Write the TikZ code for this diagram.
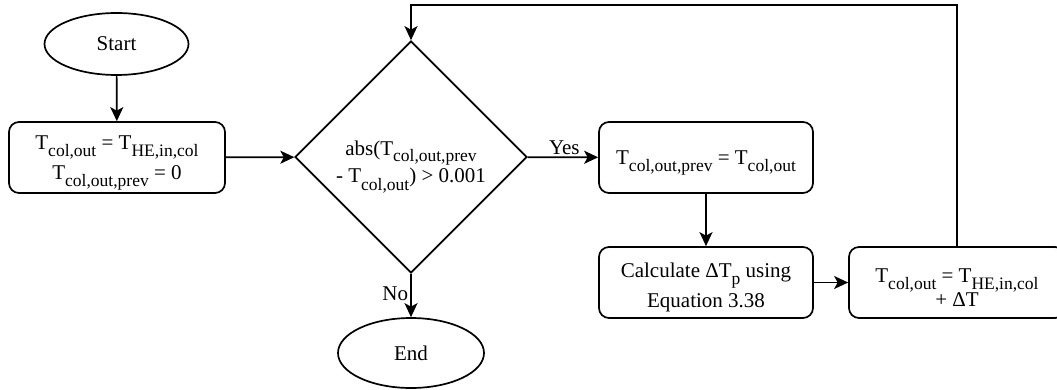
\documentclass[tikz,border=0pt]{standalone}
\usepackage{fontspec}
\setmainfont{Liberation Serif}
\newfontfamily\tms{Liberation Serif}
\usetikzlibrary{shapes.geometric,arrows.meta}
\newcommand\sbx[1]{\raisebox{-7pt}{\fontsize{17.5}{18}\selectfont #1}}
\lineskiplimit=-100pt
\begin{document}
\begin{tikzpicture}[x=1pt,y=-1pt, line width=1.7pt,
  every node/.style={font=\tms\fontsize{21}{24}\selectfont},
  box/.style={draw, rounded corners=10pt, minimum width=216pt, minimum height=71pt, align=center, inner sep=0pt},
  oval/.style={draw, ellipse, minimum width=144pt, minimum height=62pt, inner sep=0pt},
  dec/.style={draw, diamond, minimum width=232pt, minimum height=232pt, align=center, inner sep=0pt},
  arr/.style={-{Stealth[length=14pt,width=13pt,inset=3.5pt]}},
  lbl/.style={inner sep=2pt}]
\useasboundingbox (0,0) rectangle (1057,390);
\node[oval] (start) at (116.5,44) {Start};
\node[box, font=\tms\fontsize{21}{30}\selectfont, text height=50pt, text depth=5pt] (b1) at (117,157.5) {T\sbx{col,out} = T\sbx{HE,in,col}\\T\sbx{col,out,prev} = 0};
\node[dec, font=\tms\fontsize{21}{28}\selectfont, text height=56pt, text depth=4pt] (d) at (411,157) {abs(T\sbx{col,out,prev}\\- T\sbx{col,out}) > 0.001};
\node[box, minimum width=214pt, text height=20pt, text depth=5pt] (b2) at (706,157.5) {T\sbx{col,out,prev} = T\sbx{col,out}};
\node[box, minimum width=214pt, font=\tms\fontsize{21}{30}\selectfont, text height=53pt, text depth=4pt] (b3) at (706,282.5) {Calculate ΔT\sbx{p} using\\Equation 3.38};
\node[box, font=\tms\fontsize{21}{24}\selectfont, text height=51pt, text depth=4pt] (b4) at (957,282.5) {T\sbx{col,out} = T\sbx{HE,in,col}\\+ ΔT};
\node[oval, minimum width=146pt, minimum height=70pt] (end) at (411,353) {End};
\coordinate (loop) at (0,5);
\draw[arr] (start) -- (b1);
\draw[arr] (b1) -- (d);
\draw[arr] (d) -- node[lbl, above, pos=0.52] {Yes} (b2);
\draw[arr] (d) -- node[lbl, left, pos=0.47] {No} (end);
\draw[arr] (b2) -- (b3);
\draw[arr] (b3) -- (b4);
\draw[arr] (b4.north) -- (b4.north |- loop) -| (d.north);
\end{tikzpicture}
\end{document}
